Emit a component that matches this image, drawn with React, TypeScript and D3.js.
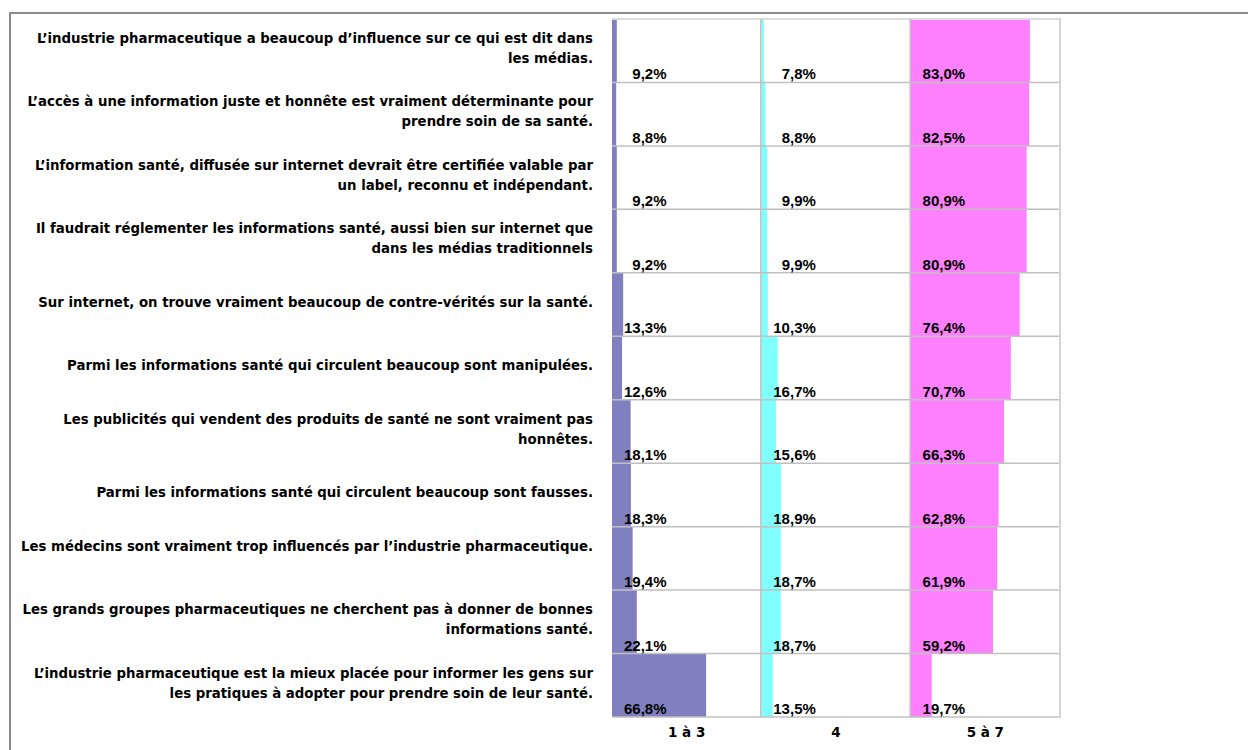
import React from "react";
import * as d3 from "d3";

const categories: string[] = [
  "L’industrie pharmaceutique a beaucoup d’influence sur ce qui est dit dans\nles médias.",
  "L’accès à une information juste et honnête est vraiment déterminante pour\nprendre soin de sa santé.",
  "L’information santé, diffusée sur internet devrait être certifiée valable par\nun label, reconnu et indépendant.",
  "Il faudrait réglementer les informations santé, aussi bien sur internet que\ndans les médias traditionnels",
  "Sur internet, on trouve vraiment beaucoup de contre-vérités sur la santé.",
  "Parmi les informations santé qui circulent beaucoup sont manipulées.",
  "Les publicités qui vendent des produits de santé ne sont vraiment pas\nhonnêtes.",
  "Parmi les informations santé qui circulent beaucoup sont fausses.",
  "Les médecins sont vraiment trop influencés par l’industrie pharmaceutique.\n",
  "Les grands groupes pharmaceutiques ne cherchent pas à donner de bonnes\ninformations santé.",
  "L’industrie pharmaceutique est la mieux placée pour informer les gens sur\nles pratiques à adopter pour prendre soin de leur santé.",
];

const seriesNames: string[] = ["1 à 3", "4", "5 à 7"];
const values1to3: number[] = [9.2, 8.8, 9.2, 9.2, 13.3, 12.6, 18.1, 18.3, 19.4, 22.1, 66.8];
const values4: number[] = [7.8, 8.8, 9.9, 9.9, 10.3, 16.7, 15.6, 18.9, 18.7, 18.7, 13.5];
const values5to7: number[] = [83.0, 82.5, 80.9, 80.9, 76.4, 70.7, 66.3, 62.8, 61.9, 59.2, 19.7];
const seriesColors: string[] = ["#8080c0", "#80ffff", "#ff80ff"];

const W = 1248;
const H = 750;

export default function App() {
  const series = [values1to3, values4, values5to7];
  const panel = d3.scaleBand<string>().domain(seriesNames).range([612, 1060]).padding(0);
  const row = d3
    .scaleBand<number>()
    .domain(categories.map((_, i) => i))
    .range([19, 717])
    .padding(0);
  const x = d3.scaleLinear().domain([6.1, 102.4]).range([0, panel.bandwidth()]);
  const fmt = (v: number) => d3.format(".1f")(v).replace(".", ",") + "%";
  const labelFont = "'DejaVu Sans', Verdana, sans-serif";
  const valueFont = "'Liberation Sans', Arial, sans-serif";

  return (
    <svg
      width={W}
      height={H}
      style={{ position: "absolute", left: 0, top: 0, background: "#fff" }}
    >
      {/* outer frame */}
      <line x1={10} y1={13} x2={W} y2={13} stroke="#8c8c8c" strokeWidth={2} />
      <line x1={10} y1={12} x2={10} y2={H} stroke="#8c8c8c" strokeWidth={2} />

      {/* bars */}
      {series.map((vals, si) =>
        vals.map((v, i) => (
          <rect
            key={`b${si}-${i}`}
            x={panel(seriesNames[si])!}
            y={row(i)!}
            width={Math.max(0, x(v))}
            height={row.bandwidth()}
            fill={seriesColors[si]}
          />
        ))
      )}

      {/* grid */}
      {d3.range(categories.length + 1).map((i) => {
        const y = i === categories.length ? 717 : row(i)!;
        return (
          <line
            key={`h${i}`}
            x1={612}
            x2={1060}
            y1={y}
            y2={y}
            stroke={i === 0 ? "#dcdcdc" : "#c0c0c0"}
            strokeWidth={i === 0 ? 2 : 1.5}
          />
        );
      })}
      {seriesNames.slice(1).map((s) => (
        <line
          key={`v${s}`}
          x1={panel(s)! - 0.5}
          x2={panel(s)! - 0.5}
          y1={19}
          y2={717}
          stroke="#c0c0c0"
          strokeWidth={1.5}
        />
      ))}
      <line x1={1060} x2={1060} y1={18} y2={718} stroke="#d4d4d4" strokeWidth={2} />

      {/* value labels */}
      {series.map((vals, si) =>
        vals.map((v, i) => (
          <text
            key={`t${si}-${i}`}
            x={panel(seriesNames[si])! + 54.5}
            y={row(i)! + row.bandwidth() - 3}
            textAnchor="end"
            fontFamily={valueFont}
            fontWeight="bold"
            fontSize={15}
            fill="#000"
          >
            {fmt(v)}
          </text>
        ))
      )}

      {/* category labels */}
      {categories.map((c, i) => {
        const lines = c.split("\n");
        const cy = row(i)! + row.bandwidth() / 2 - 2.5;
        const lh = 20;
        const y0 = cy - ((lines.length - 1) * lh) / 2;
        return (
          <text
            key={`c${i}`}
            textAnchor="end"
            fontFamily={labelFont}
            fontWeight="bold"
            fontSize={13.3}
            fill="#000"
          >
            {lines.map((l, j) => (
              <tspan key={j} x={593} y={y0 + j * lh} dy="0.36em">
                {l}
              </tspan>
            ))}
          </text>
        );
      })}

      {/* axis labels */}
      {seriesNames.map((s) => (
        <text
          key={`a${s}`}
          x={panel(s)! + panel.bandwidth() / 2}
          y={737}
          textAnchor="middle"
          fontFamily={labelFont}
          fontWeight="bold"
          fontSize={13.5}
          fill="#000"
        >
          {s}
        </text>
      ))}
    </svg>
  );
}
